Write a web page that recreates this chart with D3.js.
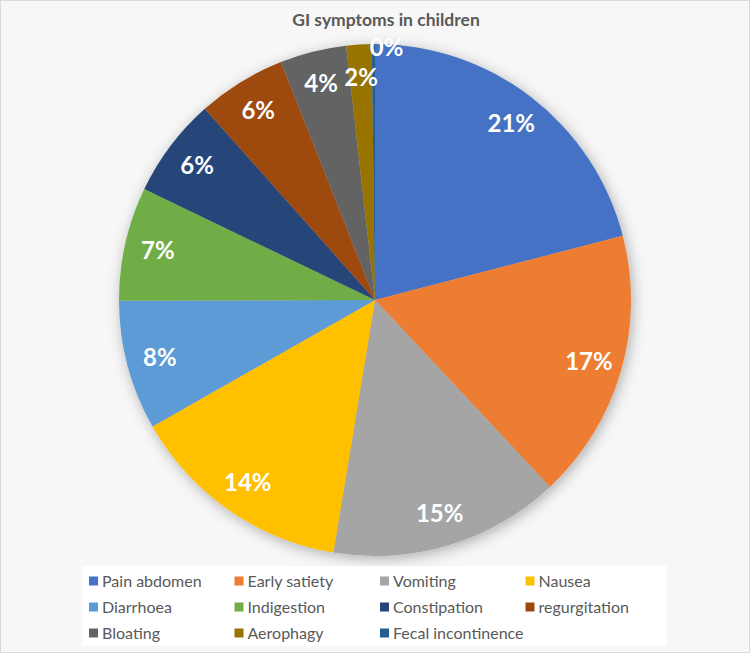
<!DOCTYPE html>
<html>
<head>
<meta charset="utf-8">
<script src="https://cdn.jsdelivr.net/npm/d3@7"></script>
<style>
  html, body { margin: 0; padding: 0; background: #f7f7f7; }
  svg { display: block; }
</style>
</head>
<body>
<svg id="chart"></svg>
<script>
// data (share of children, %)
const CATEGORIES = ['Pain abdomen', 'Early satiety', 'Vomiting', 'Nausea', 'Diarrhoea', 'Indigestion',
  'Constipation', 'regurgitation', 'Bloating', 'Aerophagy', 'Fecal incontinence'];
const VALUES = [21.0, 17.1, 14.6, 14.2, 8.2, 7.2, 6.3, 5.6, 4.2, 1.6, 0.2];
const COLORS = ['#4472c4', '#ed7d31', '#a5a5a5', '#ffc000', '#5b9bd5', '#70ad47',
  '#264478', '#9e480e', '#636363', '#997300', '#255e91'];
const TITLE = 'GI symptoms in children';

const WIDTH = 750, HEIGHT = 653;
const CX = 375, CY = 300, R = 256;

const svg = d3.select('#chart').attr('width', WIDTH).attr('height', HEIGHT);

// soft shadow behind the pie
const defs = svg.append('defs');
const shadow = defs.append('filter').attr('id', 'shadow')
  .attr('x', '-20%').attr('y', '-20%').attr('width', '140%').attr('height', '140%');
shadow.append('feDropShadow')
  .attr('dx', 2).attr('dy', 3).attr('stdDeviation', 7)
  .attr('flood-color', '#000').attr('flood-opacity', 0.3);

// chart area frame
svg.append('rect')
  .attr('x', 0.5).attr('y', 0.5).attr('width', WIDTH - 1).attr('height', HEIGHT - 1)
  .attr('fill', '#f7f7f7').attr('stroke', '#d9d9d9');

// title
svg.append('text')
  .attr('x', 386).attr('y', 26)
  .attr('text-anchor', 'middle')
  .style('font-family', 'Lato, sans-serif')
  .style('font-weight', 'bold')
  .style('font-size', '17.5px')
  .attr('fill', '#595959')
  .text(TITLE);

const color = d3.scaleOrdinal().domain(CATEGORIES).range(COLORS);
const total = d3.sum(VALUES);
const data = CATEGORIES.map((c, i) => ({ name: c, value: VALUES[i] }));

const pie = d3.pie().value(d => d.value).sort(null);
const arc = d3.arc().innerRadius(0).outerRadius(R);
const arcs = pie(data);

const g = svg.append('g').attr('transform', `translate(${CX},${CY})`);

g.append('g').attr('filter', 'url(#shadow)')
  .selectAll('path')
  .data(arcs)
  .enter()
  .append('path')
  .attr('d', arc)
  .attr('fill', d => color(d.data.name));

// data labels, "inside end"; push a label along the rim if it hits the one before
const labels = g.append('g');
const placed = [];
const overlaps = (a, b) => !(a.x + a.width <= b.x || b.x + b.width <= a.x ||
  a.y + a.height <= b.y || b.y + b.height <= a.y);

arcs.forEach(d => {
  let ang = (d.startAngle + d.endAngle) / 2;
  let rad = R * 0.87;
  const t = labels.append('text')
    .attr('text-anchor', 'middle')
    .attr('dy', '0.35em')
    .style('font-family', 'Lato, sans-serif')
    .style('font-weight', 'bold')
    .style('font-size', '24px')
    .attr('fill', '#fff')
    .text(Math.round(d.data.value / total * 100) + '%');
  const put = () => t.attr('x', rad * Math.sin(ang)).attr('y', -rad * Math.cos(ang));
  put();
  let box = t.node().getBBox();
  let n = 0;
  while (placed.some(p => overlaps(p, box)) && n < 60) {
    ang += Math.PI / 720;
    rad += 2.5;
    put();
    box = t.node().getBBox();
    n++;
  }
  placed.push(box);
});

// legend
const LEG_X = 82, LEG_Y = 566, LEG_W = 585, LEG_H = 80;
const legend = svg.append('g');
legend.append('rect')
  .attr('x', LEG_X).attr('y', LEG_Y).attr('width', LEG_W).attr('height', LEG_H)
  .attr('fill', '#fff');

const colX = d3.scaleLinear().domain([0, 1]).range([89, 89 + 145.5]);
const rowY = d3.scaleLinear().domain([0, 1]).range([581, 607]);

const item = legend.selectAll('g.item')
  .data(CATEGORIES)
  .enter()
  .append('g')
  .attr('class', 'item')
  .attr('transform', (d, i) => `translate(${colX(i % 4)},${rowY(Math.floor(i / 4))})`);

item.append('rect')
  .attr('x', 0).attr('y', -4.5)
  .attr('width', 9).attr('height', 9)
  .attr('fill', d => color(d));

item.append('text')
  .attr('x', 13).attr('dy', '0.35em')
  .style('font-family', 'Lato, sans-serif')
  .style('font-size', '16px')
  .attr('fill', '#595959')
  .text(d => d);
</script>
</body>
</html>
